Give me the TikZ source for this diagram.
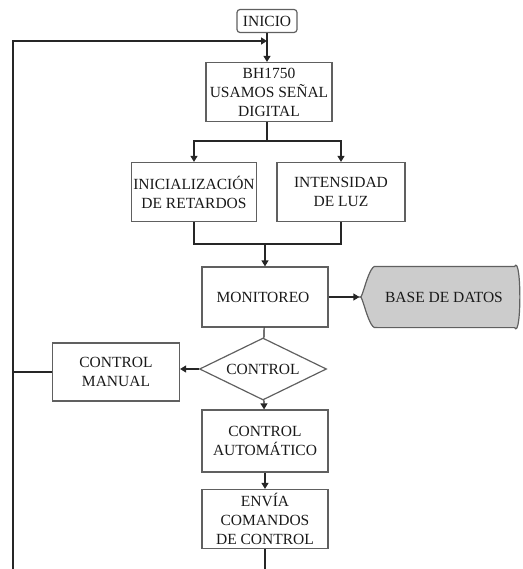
\documentclass[tikz,border=0pt]{standalone}
\usepackage{fontspec}
\setmainfont{Liberation Serif}
\usetikzlibrary{arrows.meta,shapes.geometric}
\begin{document}
\begin{tikzpicture}[x=1pt, y=-1pt, line width=1.2pt,
        font=\fontsize{15.5}{19}\selectfont, text=black!90,
        >={Triangle[length=6pt,width=7pt]},
        main/.style = {draw=gray!75!black, align=center, minimum width=126pt, minimum height=59pt, inner sep=1pt},
        line/.style = {draw=black!85}]
        \useasboundingbox (0,0) rectangle (522,569);
        \node[draw=gray!75!black, rounded corners=3pt, minimum width=60pt, minimum height=23pt, inner sep=2pt] at (267,21) (inicio) { INICIO };
        \node[main] at (269,92) (bh) { BH1750\\USAMOS SEÑAL\\DIGITAL };
        \node[main, minimum width=125pt] at (194,192) (ini) { INICIALIZACIÓN\\DE RETARDOS };
        \node[main, minimum width=128pt] at (341,192) (luz) { INTENSIDAD\\DE LUZ };
        \node[main, minimum height=60pt] at (265,297) (mon) { MONITOREO };
        \node[minimum width=162pt, minimum height=60pt, inner sep=0pt] at (441,297) (db) {};
        \node[draw=gray!75!black, diamond, aspect=2, minimum width=127pt, minimum height=62pt, inner sep=0pt] at (263,369) (ctrl) { CONTROL };
        \node[main, minimum width=127pt, minimum height=58pt] at (116,372) (man) { CONTROL\\MANUAL };
        \node[main, minimum height=62pt] at (265,441) (auto) { CONTROL\\AUTOMÁTICO };
        \node[main] at (265,519) (envia) { ENVÍA\\COMANDOS\\DE CONTROL };
        % forma de la base de datos
        \draw[draw=gray!75!black, fill=gray!40] ([xshift=18pt]db.north west) -- ([xshift=-8pt]db.north east)
            .. controls ([xshift=-1pt,yshift=12pt]db.north east) and ([xshift=-1pt,yshift=-12pt]db.south east) .. ([xshift=-8pt]db.south east)
            -- ([xshift=18pt]db.south west) .. controls ([xshift=9pt,yshift=-5pt]db.south west) and ([xshift=3pt,yshift=6pt]db.west) .. (db.west)
            .. controls ([xshift=3pt,yshift=-6pt]db.west) and ([xshift=9pt,yshift=5pt]db.north west) .. ([xshift=18pt]db.north west);
        \node at ([xshift=3pt]db.center) { BASE DE DATOS };
        \coordinate (loopt) at (13,41);
        \coordinate (loopb) at (13,569);
        \coordinate (loopm) at (13,372);
        \coordinate (join) at (267,41);
        \coordinate (split) at (267,141);
        \coordinate (merge) at (265,244);
        \coordinate (fin) at (265,569);
        \draw [line, ->] (inicio) -- (inicio |- bh.north);
        \draw [line, line width=1.6pt, ->] (loopb) -- (loopt) -- (join);
        \draw [line] (split |- bh.south) -- (split);
        \draw [line, ->] (split) -| (ini.north);
        \draw [line, ->] (split) -| (luz.north);
        \draw [line] (ini.south) |- (merge);
        \draw [line] (luz.south) |- (merge);
        \draw [line, ->] (merge) -- (mon);
        \draw [line, ->] (mon) -- (db.west);
        \draw [line] (mon) -- (ctrl);
        \draw [line, ->] (ctrl) -- (man.east |- ctrl.west);
        \draw [line] (man.west) -- (loopm);
        \draw [line, ->] (ctrl) -- (auto);
        \draw [line, ->] (auto) -- (envia);
        \draw [line] (envia) -- (fin);
    \end{tikzpicture}
\end{document}
